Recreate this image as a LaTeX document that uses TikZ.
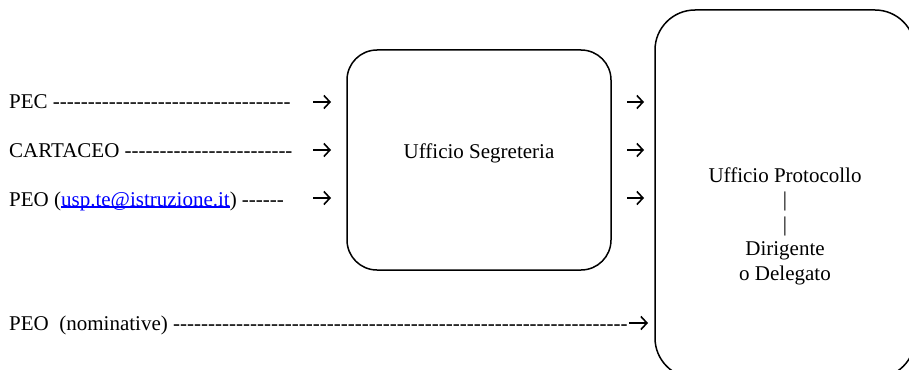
\documentclass[tikz,border=0pt]{standalone}
\usepackage{fontspec}
\setmainfont{Liberation Serif}[Ligatures=TeXOff]
\usetikzlibrary{positioning,arrows.meta}
\definecolor{linkblu}{RGB}{0,0,255}

% a row of hyphens, as typed in the original
\newcommand\trattini[1]{\foreach \k in {1,...,#1}{-}}
\newcommand\linkmail[1]{{\color{linkblu}\setbox0\hbox{#1}\rlap{\rule[-1.5pt]{\wd0}{1.1pt}}\box0}}

\begin{document}
\begin{tikzpicture}[x=1pt,y=-1pt,font=\fontsize{21}{24.4}\selectfont,
  voce/.style={anchor=base west,inner sep=0pt},
  punta/.style={line width=1.6pt,-{Straight Barb[length=6pt,width=13pt]}},
  ufficio/.style={draw,line width=1.5pt,rounded corners=#1,inner sep=0pt}]
\useasboundingbox (0,0) rectangle (909,369);

\node[ufficio=30pt,minimum width=264pt,minimum height=220pt] (segreteria) at (479,160) {};
\node[ufficio=40pt,minimum width=260pt,minimum height=368pt] (protocollo) at (785,194) {};

\node[anchor=base,inner sep=0pt] (tseg) at (479,158) {Ufficio Segreteria};
\node[anchor=base,inner sep=0pt,align=center] (tprot) at (785,280)
  {Ufficio Protocollo\\|\\|\\Dirigente\\o Delegato};

\node[voce] (pec) at (9,108) {PEC \trattini{34}};
\node[voce] (cartaceo) at (9,157) {CARTACEO \trattini{24}};
\node[voce] (peo) at (9,206) {PEO (\linkmail{usp.te@istruzione.it}) \trattini{6}};
\node[voce] (nomin) at (9,330) {PEO\ \ (nominative) \trattini{65}};

\foreach \r/\y in {1/102,2/150,3/198}
{
	\coordinate (sa\r) at (313,\y);
	\coordinate (sb\r) at (331,\y);
	\coordinate (da\r) at (627,\y);
	\coordinate (db\r) at (644,\y);
	\draw[punta] (sa\r) -- (sb\r);
	\draw[punta] (da\r) -- (db\r);
}
\coordinate (na) at ([xshift=1pt,yshift=7pt]nomin.base east);
\coordinate (nb) at (648,323);
\draw[punta] (na) -- (nb);

\end{tikzpicture}
\end{document}
